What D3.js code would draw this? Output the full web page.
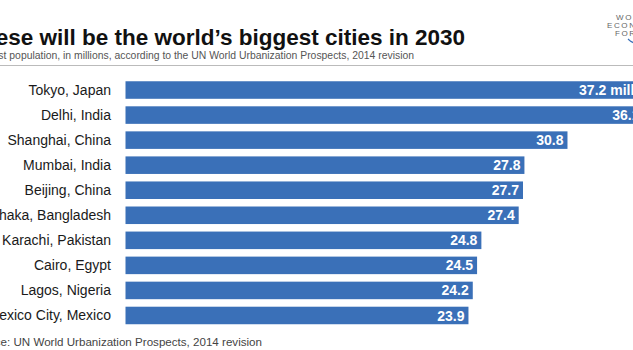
<!DOCTYPE html>
<html><head><meta charset="utf-8">
<script src="https://cdn.jsdelivr.net/npm/d3@7"></script>
<style>body{margin:0;background:#fff}svg{display:block;font-family:"Liberation Sans",Arial,Helvetica,sans-serif}</style>
</head><body>
<svg id="c" width="633" height="350"></svg>
<script>
const cities = ["Tokyo, Japan","Delhi, India","Shanghai, China","Mumbai, India","Beijing, China","Dhaka, Bangladesh","Karachi, Pakistan","Cairo, Egypt","Lagos, Nigeria","Mexico City, Mexico"];
const population = [37.2, 36.1, 30.8, 27.8, 27.7, 27.4, 24.8, 24.5, 24.2, 23.9];
const valueLabels = ["37.2 million","36.1","30.8","27.8","27.7","27.4","24.8","24.5","24.2","23.9"];

const svg = d3.select("#c");
const x = d3.scaleLinear().domain([0, 40]).range([125.5, 125.5 + 40*14.35]);
const y = d3.scaleBand().domain(cities).range([77.5, 328]).paddingInner(0.3).paddingOuter(0.15);

svg.append("text").attr("x", 465).attr("y", 45).attr("text-anchor","end")
  .attr("font-size", 22.5).attr("font-weight","bold").attr("fill","#111")
  .text("These will be the world\u2019s biggest cities in 2030");
svg.append("text").attr("x", 414).attr("y", 58.5).attr("text-anchor","end")
  .attr("font-size", 10.4).attr("fill","#555")
  .text("Cities with the largest population, in millions, according to the UN World Urbanization Prospects, 2014 revision");
svg.append("line").attr("x1",0).attr("x2",633).attr("y1",65.5).attr("y2",65.5).attr("stroke","#bbb").attr("stroke-width",1.2);

// logo
const logo = svg.append("g").attr("fill","#666").attr("font-size",8).attr("letter-spacing",1.6);
logo.append("text").attr("x",616).attr("y",20).text("WORLD");
logo.append("text").attr("x",607).attr("y",28).text("ECONOMIC");
logo.append("text").attr("x",615).attr("y",36).text("FORUM");
svg.append("path").attr("d","M628,39 Q633,44 640,44").attr("fill","none").attr("stroke","#3a70b8").attr("stroke-width",1.2);

svg.append("g").selectAll("rect").data(cities).join("rect")
  .attr("x", x(0)).attr("y", d => y(d)).attr("height", y.bandwidth())
  .attr("width", (d,i) => x(population[i]) - x(0)).attr("fill","#3a70b8");

svg.append("g").selectAll("text").data(cities).join("text")
  .attr("x", 111).attr("y", d => y(d) + y.bandwidth()/2).attr("dy","0.35em")
  .attr("text-anchor","end").attr("font-size",14).attr("fill","#1a1a1a").text(d => d);

svg.append("g").selectAll("text").data(cities).join("text")
  .attr("x", (d,i) => x(population[i]) - 4).attr("y", d => y(d) + y.bandwidth()/2).attr("dy","0.36em")
  .attr("text-anchor","end").attr("font-size",14).attr("font-weight","bold").attr("fill","#fff")
  .text((d,i) => valueLabels[i]);

svg.append("text").attr("x", 262).attr("y", 346).attr("text-anchor","end")
  .attr("font-size", 11.6).attr("fill","#444")
  .text("Source: UN World Urbanization Prospects, 2014 revision");
</script>
</body></html>
